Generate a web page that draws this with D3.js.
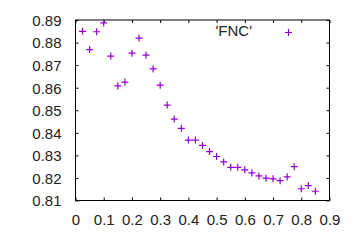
<!DOCTYPE html>
<html><head><meta charset="utf-8">
<script src="https://cdn.jsdelivr.net/npm/d3@7"></script>
<style>body{margin:0;background:#fff}svg{display:block}text{font-family:"Liberation Sans",Arial,sans-serif;font-size:15px;fill:#222}</style>
</head><body>
<script>
const xValues = [0.025,0.05,0.075,0.1,0.125,0.15,0.175,0.2,0.225,0.25,0.275,0.3,0.325,0.35,0.375,0.4,0.425,0.45,0.475,0.5,0.525,0.55,0.575,0.6,0.625,0.65,0.675,0.7,0.725,0.75,0.775,0.8,0.825,0.85];
const yValues = [0.885,0.8769,0.8848,0.8887,0.874,0.8608,0.8625,0.8753,0.882,0.8744,0.8683,0.8611,0.8523,0.8461,0.842,0.8368,0.8368,0.8344,0.8317,0.8295,0.8271,0.8247,0.8247,0.8236,0.8222,0.8209,0.8199,0.8196,0.8188,0.8205,0.825,0.8152,0.8166,0.8141];
const xTicks = [0,0.1,0.2,0.3,0.4,0.5,0.6,0.7,0.8,0.9];
const yTicks = [0.81,0.82,0.83,0.84,0.85,0.86,0.87,0.88,0.89];
const seriesName = "'FNC'";

const W=360,H=240, L=75.5, R=329.5, T=20, B=200.5;
const color="#9400d3";
const svg=d3.select("body").append("svg").attr("width",W).attr("height",H);
const x=d3.scaleLinear().domain([0,0.9]).range([L,R]);
const y=d3.scaleLinear().domain([0.81,0.89]).range([B,T]);

// frame
svg.append("rect").attr("x",L).attr("y",T).attr("width",R-L).attr("height",B-T)
  .attr("fill","none").attr("stroke","#000").attr("stroke-width",1);

const tl=3;
const fmt=d=>d===0?"0":d3.format("")(d);
// bottom axis
const xb=svg.append("g").attr("transform",`translate(0,${B})`)
  .call(d3.axisBottom(x).tickValues(xTicks).tickSize(-tl).tickPadding(14).tickFormat(fmt));
const xt=svg.append("g").attr("transform",`translate(0,${T})`)
  .call(d3.axisTop(x).tickValues(xTicks).tickSize(-tl).tickFormat(""));
const yl=svg.append("g").attr("transform",`translate(${L},0)`)
  .call(d3.axisLeft(y).tickValues(yTicks).tickSize(-tl).tickPadding(14).tickFormat(d3.format(".2f")));
const yr=svg.append("g").attr("transform",`translate(${R},0)`)
  .call(d3.axisRight(y).tickValues(yTicks).tickSize(-tl).tickFormat(""));
[xb,xt,yl,yr].forEach(g=>{
  g.select(".domain").remove();
  g.selectAll(".tick line").attr("stroke","#000");
  g.selectAll("text").attr("fill","#222").style("font-size","15px").style("font-family","Liberation Sans, Arial, sans-serif");
});
yl.selectAll("text").attr("dy","0.36em");
xb.selectAll("text").attr("dy","0.71em");

const s=3.5;
const plus=(g,cx,cy)=>g.append("path")
  .attr("d",`M${cx-s},${cy}H${cx+s}M${cx},${cy-s}V${cy+s}`)
  .attr("stroke",color).attr("stroke-width",1.2).attr("fill","none");

const pts=svg.append("g");
xValues.forEach((v,i)=>plus(pts,x(v),y(yValues[i])));

// legend
svg.append("text").attr("x",252).attr("y",36).attr("text-anchor","end").text(seriesName);
plus(svg,288.5,32.5);
</script>
</body></html>
